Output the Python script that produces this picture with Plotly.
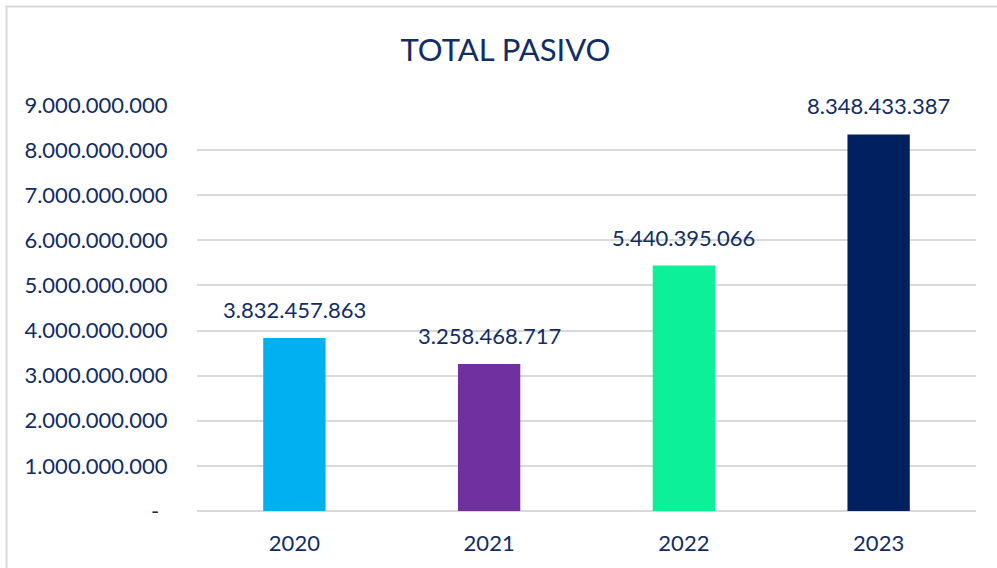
import plotly.graph_objects as go

# data
years = ["2020", "2021", "2022", "2023"]
total_pasivo = [3832457863, 3258468717, 5440395066, 8348433387]
bar_colors = ["#00B0F0", "#7030A0", "#0CF09A", "#002060"]
y_ticks = [0, 1e9, 2e9, 3e9, 4e9, 5e9, 6e9, 7e9, 8e9, 9e9]

TEXT = "#112D63"
FONT = "Lato"


def fmt(v):
    """Spanish-style thousands separator"""
    return f"{int(v):,}".replace(",", ".")


y_ticktext = ["-\u00a0\u2009" if v == 0 else fmt(v) for v in y_ticks]

fig = go.Figure()

fig.add_trace(go.Bar(
    x=years,
    y=total_pasivo,
    marker_color=bar_colors,
    marker_line_width=0,
    hoverinfo="skip",
))

# value labels above bars (x as category index, numeric-looking strings
# would otherwise be read as positions on the axis)
for i, val in enumerate(total_pasivo):
    fig.add_annotation(
        x=i, y=val, text=fmt(val),
        showarrow=False, yanchor="bottom", yshift=13,
        font=dict(family=FONT, size=22, color=TEXT),
    )

# outer chart border (light grey frame)
fig.add_shape(
    type="rect", xref="paper", yref="paper",
    x0=-0.2445, x1=1.2, y0=-0.5, y1=1.2426,
    line=dict(color="#D9D9D9", width=2),
    layer="below",
)

fig.update_layout(
    title=dict(
        text="TOTAL PASIVO",
        x=0.507, xanchor="center",
        y=0.912, yanchor="middle",
        font=dict(family=FONT, size=31, color=TEXT),
    ),
    width=997,
    height=568,
    margin=dict(l=197, r=21, t=105, b=57),
    plot_bgcolor="white",
    paper_bgcolor="white",
    showlegend=False,
    bargap=0.68,
    font=dict(family=FONT, size=22, color=TEXT),
    xaxis=dict(
        type="category",
        range=[-0.5, 3.5],
        automargin=False,
        showgrid=False,
        showline=False,
        ticks="outside",
        ticklen=13,
        tickcolor="rgba(0,0,0,0)",
        tickfont=dict(family=FONT, size=22, color=TEXT),
    ),
    yaxis=dict(
        automargin=False,
        range=[0, 9e9],
        tickvals=y_ticks,
        ticktext=y_ticktext,
        showgrid=True,
        gridcolor="#D9D9D9",
        gridwidth=1.5,
        zeroline=True,
        zerolinecolor="#D9D9D9",
        zerolinewidth=1.5,
        showline=False,
        ticks="outside",
        ticklen=24,
        tickcolor="rgba(0,0,0,0)",
        tickfont=dict(family=FONT, size=22, color=TEXT),
    ),
)

# remove the default page margin so the figure sits at the top-left corner
fig.write_html(
    "out.html",
    config={"displayModeBar": False},
    post_script="document.body.style.margin='0';",
)
